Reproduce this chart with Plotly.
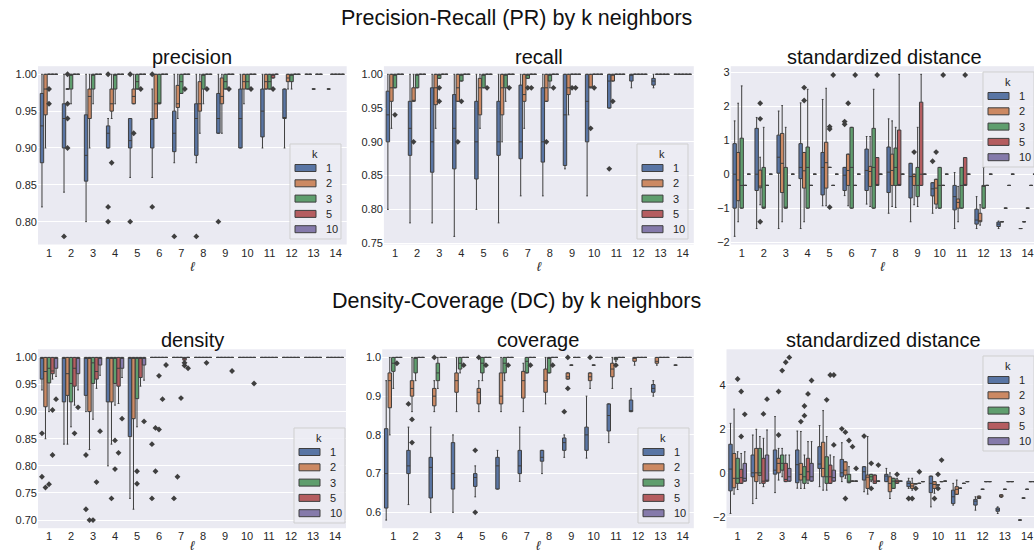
import plotly.graph_objects as go

# ---------------- categories ----------------
ELL = [1, 2, 3, 4, 5, 6, 7, 8, 9, 10, 11, 12, 13, 14]
ELL_LABELS = ["1", "2", "3", "4", "5", "6", "7", "8", "9", "10", "11", "12", "13", "14"]
K_LEVELS = [1, 2, 3, 5, 10]
K_COLORS = ["#5975a4", "#cc8963", "#5f9e6e", "#b55d60", "#857aab"]

# box stats per ell: (lower whisker, q1, median, q3, upper whisker)
# ---------------- precision ----------------
prec_k1 = [(.82, .88, .93, .974, 1), (.84, .90, .94, .96, 1), (.80, .855, .89, .945, 1), (.90, .90, .92, .93, .94),
           (.86, .90, .91, .94, .94), (.86, .90, .94, .94, .98), (.88, .895, .92, .95, 1), (.88, .89, .94, .96, 1),
           (.92, .92, .94, .974, 1), (.90, .90, .94, .98, 1), (.90, .915, .95, .98, 1), (.90, .94, .94, .98, .98),
           (1, 1, 1, 1, 1), (.98, .98, .98, .98, .98)]
prec_k2 = [(.90, .945, .98, 1, 1), (.98, .98, .98, .98, .98), (.90, .94, .97, .98, 1), (.94, .95, .96, .98, 1),
           (.96, .96, .97, .98, 1), (.94, .94, .96, 1, 1), (.94, .955, .96, .985, 1), (.92, .95, .96, .99, 1),
           (.92, .96, .97, .995, 1), (.96, .98, .99, 1, 1), (.98, .98, .99, 1, 1), (.98, .99, .995, 1, 1),
           (1, 1, 1, 1, 1), (1, 1, 1, 1, 1)]
prec_k3 = [(1, 1, 1, 1, 1), (.96, .98, 1, 1, 1), (.96, .98, 1, 1, 1), (.96, .98, 1, 1, 1),
           (.98, .98, .99, 1, 1), (.96, .96, .96, 1, 1), (.974, .974, .99, 1, 1), (.96, .98, 1, 1, 1),
           (.98, .98, .99, 1, 1), (.98, .98, .99, 1, 1), (.98, .98, .99, 1, 1), (.98, .99, 1, 1, 1),
           (.98, .98, .98, .98, .98), (1, 1, 1, 1, 1)]
prec_k5 = [(1, 1, 1, 1, 1), (1, 1, 1, 1, 1), (1, 1, 1, 1, 1), (1, 1, 1, 1, 1), (1, 1, 1, 1, 1),
           (1, 1, 1, 1, 1), (1, 1, 1, 1, 1), (1, 1, 1, 1, 1), (1, 1, 1, 1, 1), (1, 1, 1, 1, 1),
           (.995, .995, 1, 1, 1), (1, 1, 1, 1, 1), (1, 1, 1, 1, 1), (1, 1, 1, 1, 1)]
prec_k10 = [(1, 1, 1, 1, 1), (1, 1, 1, 1, 1), (1, 1, 1, 1, 1), (1, 1, 1, 1, 1), (1, 1, 1, 1, 1),
            (1, 1, 1, 1, 1), (1, 1, 1, 1, 1), (1, 1, 1, 1, 1), (1, 1, 1, 1, 1), (1, 1, 1, 1, 1),
            (1, 1, 1, 1, 1), (1, 1, 1, 1, 1), (1, 1, 1, 1, 1), (1, 1, 1, 1, 1)]
# outliers: (ell, value)
prec_out_k1 = [(2, .78), (4, 1.0), (4, .82), (4, .80), (5, 1.0), (5, .80), (6, 1.0), (6, .82), (7, .78), (8, .78), (9, .80)]
prec_out_k2 = [(2, 1.0), (2, .96), (2, .94), (2, .90), (4, .88), (5, .92)]
prec_out_k3 = [(1, .98), (1, .96)]
prec_out_k5 = [(5, .98), (7, .98), (8, .98), (9, .98), (10, .98), (11, .98)]
prec_out_k10 = []

# ---------------- recall ----------------
rec_k1 = [(.80, .90, .94, .975, 1), (.78, .88, .92, .96, 1), (.78, .855, .90, .98, 1), (.76, .86, .92, .97, 1),
          (.80, .845, .90, .96, 1), (.78, .88, .90, .96, 1), (.82, .875, .90, .984, 1), (.82, .87, .90, .98, 1),
          (.86, .865, .94, 1, 1), (.82, .90, .96, 1, 1), (.95, .95, .99, 1, 1), (.98, .99, 1, 1, 1),
          (.98, .984, .99, .994, 1), (1, 1, 1, 1, 1)]
rec_k2 = [(.92, .96, .98, 1, 1), (.96, .96, .96, .98, 1), (.92, .955, .98, 1, 1), (.96, .96, .98, 1, 1),
          (.92, .94, .98, .994, 1), (.90, .94, .98, 1, 1), (.92, .96, .97, 1, 1), (.96, .96, .98, 1, 1),
          (.94, .97, .98, 1, 1), (.98, .98, .98, 1, 1), (.99, .99, 1, 1, 1), (1, 1, 1, 1, 1),
          (1, 1, 1, 1, 1), (1, 1, 1, 1, 1)]
rec_k3 = [(.98, .98, 1, 1, 1), (.98, .98, 1, 1, 1), (.994, .994, 1, 1, 1), (.99, .99, 1, 1, 1),
          (.98, .98, 1, 1, 1), (.96, .98, 1, 1, 1), (.994, .994, 1, 1, 1), (.98, .99, 1, 1, 1),
          (1, 1, 1, 1, 1), (1, 1, 1, 1, 1), (1, 1, 1, 1, 1), (1, 1, 1, 1, 1), (1, 1, 1, 1, 1), (1, 1, 1, 1, 1)]
rec_k5 = [(1, 1, 1, 1, 1), (1, 1, 1, 1, 1), (1, 1, 1, 1, 1), (1, 1, 1, 1, 1), (1, 1, 1, 1, 1),
          (1, 1, 1, 1, 1), (1, 1, 1, 1, 1), (1, 1, 1, 1, 1), (1, 1, 1, 1, 1), (1, 1, 1, 1, 1),
          (1, 1, 1, 1, 1), (1, 1, 1, 1, 1), (1, 1, 1, 1, 1), (1, 1, 1, 1, 1)]
rec_k10 = [(1, 1, 1, 1, 1), (1, 1, 1, 1, 1), (1, 1, 1, 1, 1), (1, 1, 1, 1, 1), (1, 1, 1, 1, 1),
           (1, 1, 1, 1, 1), (1, 1, 1, 1, 1), (1, 1, 1, 1, 1), (1, 1, 1, 1, 1), (1, 1, 1, 1, 1),
           (1, 1, 1, 1, 1), (1, 1, 1, 1, 1), (1, 1, 1, 1, 1), (1, 1, 1, 1, 1)]
rec_out_k1 = [(11, .86)]
rec_out_k2 = [(2, .90), (4, .90), (8, .90), (10, .92), (11, .96)]
rec_out_k3 = [(1, .94), (3, .98), (3, .96), (4, .96), (7, .98), (9, .98), (10, .98)]
rec_out_k5 = [(5, .98), (6, .98), (7, .98), (8, .98), (9, .98)]
rec_out_k10 = []

# ---------------- standardized distance (PR) ----------------
spr_k1 = [(-1.83, -1.0, 0, .9, 1.57), (-1.6, -.48, 0, 1.35, 1.67), (-1.6, .03, .5, 1.15, 1.86), (-1.6, -.13, .2, .9, 2.1),
          (-.93, -.61, .2, .64, 2.2), (-.63, -.48, -.03, .2, .2), (-.88, -.48, .11, .74, 1.11), (-1.15, -.54, .06, .8, 1.63),
          (-1.4, -.7, -.07, .32, .32), (-1.15, -.64, -.43, -.25, -.25), (-1.6, -1.05, -.66, -.33, .05),
          (-1.6, -1.47, -1.35, -1.03, -.66), (-1.6, -1.54, -1.47, -1.41, -1.38), (-1.6, -1.6, -1.6, -1.6, -1.6)]
spr_k2 = [(-1.4, -.78, -.17, .64, 2.09), (-.9, -.4, -.35, .12, .5), (-1.4, -.54, .32, 1.2, 2.02), (-1.4, -.41, .1, .64, .64),
          (-.93, -.41, .34, .94, 2.53), (-.93, -.33, .11, .59, .59), (-.95, -.36, .08, .23, 1.11), (-.95, -.33, .11, .59, 1.57),
          (-.9, -.33, -.07, 0, 0), (-1.0, -.88, -.41, -.15, -.15), (-1.4, -1.0, -.83, -.73, -.36),
          (-1.5, -1.4, -1.4, -1.15, -.9), (-1.4, -1.4, -1.4, -1.4, -1.4), (-1.4, -1.4, -1.4, -1.4, -1.4)]
spr_k3 = [(-1.0, -1.0, -.33, 1.06, 2.6), (-1.0, -1.0, -1.0, .2, 1.38), (-1.0, -1.0, -1.0, .2, 1.38), (-1.0, -1.0, .2, .8, 2.5),
          (.2, .2, .2, .2, .2), (-1.0, -1.0, .2, 1.38, 1.38), (-1.0, -1.0, .2, 1.35, 2.5), (-.98, -.33, .2, .77, 1.38),
          (-.95, -.66, -.33, .2, 1.38), (-1.0, -1.0, -.33, .2, .2), (-1.0, -1.0, -.33, .2, .2),
          (-1.0, -1.0, -.33, -.33, .2), (-1.0, -1.0, -1.0, -1.0, -1.0), (-1.0, -1.0, -1.0, -1.0, -1.0)]
spr_k5 = [(-.33, -.33, -.33, -.33, -.33), (-.33, -.33, -.33, -.33, -.33), (-.33, -.33, -.33, -.33, -.33),
          (-.33, -.33, -.33, -.33, -.33), (-.33, -.33, -.33, -.33, -.33), (-.33, -.33, -.33, -.33, -.33),
          (-.33, -.33, -.33, .49, .49), (-.33, -.33, -.33, 1.3, 2.94), (-.33, -.33, 0, 2.12, 2.94),
          (-.33, -.33, -.33, -.33, -.33), (-.33, -.33, -.33, .49, .49), (-.33, -.33, -.33, -.33, -.33),
          (-.33, -.33, -.33, -.33, -.33), (-.33, -.33, -.33, -.33, -.33)]
spr_k10 = [(0, 0, 0, 0, 0), (0, 0, 0, 0, 0), (0, 0, 0, 0, 0), (0, 0, 0, 0, 0), (0, 0, 0, 0, 0),
           (0, 0, 0, 0, 0), (0, 0, 0, 0, 0), (0, 0, 0, 0, 0), (0, 0, 0, 0, 0), (0, 0, 0, 0, 0),
           (0, 0, 0, 0, 0), (0, 0, 0, 0, 0), (0, 0, 0, 0, 0), (0, 0, 0, 0, 0)]
spr_out_k1 = [(6, 1.55), (6, 1.47), (10, .38)]
spr_out_k2 = [(2, 2.09), (2, 1.63), (2, -1.4), (4, 2.55), (4, 2.17), (6, 2.09), (9, .65), (10, .65)]
spr_out_k3 = [(5, 1.4), (5, 1.33), (5, -.97)]
spr_out_k5 = [(5, 2.92), (6, 2.92), (7, 2.92), (10, 2.92), (11, 2.92)]
spr_out_k10 = []

# ---------------- density ----------------
den_k1 = [(.94, .96, 1, 1, 1), (.84, .918, 1, 1, 1), (.90, .93, 1, 1, 1), (.80, .918, 1, 1, 1), (.74, .854, 1, 1, 1),
          (1, 1, 1, 1, 1), (1, 1, 1, 1, 1), (1, 1, 1, 1, 1), (1, 1, 1, 1, 1), (1, 1, 1, 1, 1),
          (1, 1, 1, 1, 1), (1, 1, 1, 1, 1), (1, 1, 1, 1, 1), (1, 1, 1, 1, 1)]
den_k2 = [(.85, .909, .974, 1, 1), (.84, .93, .97, 1, 1), (.83, .90, 1, 1, 1), (.84, .918, 1, 1, 1), (.72, .887, 1, 1, 1),
          (1, 1, 1, 1, 1), (1, 1, 1, 1, 1), (1, 1, 1, 1, 1), (1, 1, 1, 1, 1), (1, 1, 1, 1, 1),
          (1, 1, 1, 1, 1), (1, 1, 1, 1, 1), (1, 1, 1, 1, 1), (1, 1, 1, 1, 1)]
den_k3 = [(.90, .953, .98, 1, 1), (.872, .918, .952, 1, 1), (.886, .952, .99, 1, 1), (.912, .952, 1, 1, 1),
          (.872, .924, 1, 1, 1), (1, 1, 1, 1, 1), (1, 1, 1, 1, 1), (1, 1, 1, 1, 1), (1, 1, 1, 1, 1),
          (1, 1, 1, 1, 1), (1, 1, 1, 1, 1), (1, 1, 1, 1, 1), (1, 1, 1, 1, 1), (1, 1, 1, 1, 1)]
den_k5 = [(.96, .97, .975, 1, 1), (.912, .947, .98, 1, 1), (.943, .96, .974, 1, 1), (.915, .947, .98, 1, 1),
          (.947, .963, 1, 1, 1), (1, 1, 1, 1, 1), (.995, .995, 1, 1, 1), (1, 1, 1, 1, 1), (1, 1, 1, 1, 1),
          (1, 1, 1, 1, 1), (1, 1, 1, 1, 1), (1, 1, 1, 1, 1), (1, 1, 1, 1, 1), (1, 1, 1, 1, 1)]
den_k10 = [(.965, .98, 1, 1, 1), (.94, .97, 1, 1, 1), (.967, .986, 1, 1, 1), (.963, .98, 1, 1, 1),
           (.958, .986, 1, 1, 1), (1, 1, 1, 1, 1), (1, 1, 1, 1, 1), (1, 1, 1, 1, 1), (1, 1, 1, 1, 1),
           (1, 1, 1, 1, 1), (1, 1, 1, 1, 1), (1, 1, 1, 1, 1), (1, 1, 1, 1, 1), (1, 1, 1, 1, 1)]
den_out_k1 = [(1, .86), (1, .78), (3, .82), (3, .72), (6, .84), (6, .74), (7, .74)]
den_out_k2 = [(1, .76), (3, .70), (4, .74), (6, .87), (6, .79), (7, .78)]
den_out_k3 = [(1, .766), (3, .70), (4, .847), (4, .794), (5, .79), (5, .767), (6, .966), (6, .867), (7, .925)]
den_out_k5 = [(1, .903), (1, .82), (2, .86), (3, .77), (4, .824), (6, .923), (7, .99), (7, .985), (8, .99)]
den_out_k10 = [(1, .923), (2, .908), (3, .864), (4, .887), (5, .882), (6, .986), (7, .98), (9, .975), (10, .952)]

# ---------------- coverage ----------------
cov_k1 = [(.58, .611, .70, .816, .94), (.62, .70, .72, .76, .82), (.60, .637, .716, .742, .82), (.60, .66, .70, .78, .80),
          (.64, .667, .69, .70, .72), (.66, .66, .72, .742, .76), (.68, .70, .72, .76, .82), (.70, .732, .742, .76, .76),
          (.742, .76, .78, .792, .80), (.74, .76, .80, .82, .90), (.78, .81, .85, .88, .88), (.86, .86, .86, .89, .92),
          (.90, .91, .92, .93, .94), (.98, .98, .98, .98, .98)]
cov_k2 = [(.80, .87, .94, .96, 1), (.86, .90, .92, .94, 1), (.86, .875, .90, .92, .94), (.86, .91, .94, .96, 1),
          (.86, .88, .91, .92, .94), (.86, .88, .90, .96, 1), (.86, .895, .94, .964, .985), (.88, .91, .94, .97, 1),
          (.944, .944, .95, .96, .96), (.92, .94, .95, .96, .96), (.92, .95, .97, .985, 1), (.98, .99, 1, 1, 1),
          (.98, .985, .99, 1, 1), (1, 1, 1, 1, 1)]
cov_k3 = [(.92, .964, .985, 1, 1), (.94, .96, 1, 1, 1), (.92, .94, .96, .985, 1), (.96, .97, .985, 1, 1),
          (.94, .96, .985, 1, 1), (.94, .96, .985, 1, 1), (.96, .96, .99, 1, 1), (.96, .96, 1, 1, 1),
          (.98, .98, .98, .98, .98), (.98, .98, .98, .98, .98), (.99, .994, 1, 1, 1), (1, 1, 1, 1, 1),
          (1, 1, 1, 1, 1), (1, 1, 1, 1, 1)]
cov_k5 = [(1, 1, 1, 1, 1), (1, 1, 1, 1, 1), (1, 1, 1, 1, 1), (1, 1, 1, 1, 1), (1, 1, 1, 1, 1),
          (1, 1, 1, 1, 1), (1, 1, 1, 1, 1), (1, 1, 1, 1, 1), (1, 1, 1, 1, 1), (1, 1, 1, 1, 1),
          (1, 1, 1, 1, 1), (1, 1, 1, 1, 1), (1, 1, 1, 1, 1), (1, 1, 1, 1, 1)]
cov_k10 = [(1, 1, 1, 1, 1), (1, 1, 1, 1, 1), (1, 1, 1, 1, 1), (1, 1, 1, 1, 1), (1, 1, 1, 1, 1),
           (1, 1, 1, 1, 1), (1, 1, 1, 1, 1), (1, 1, 1, 1, 1), (1, 1, 1, 1, 1), (1, 1, 1, 1, 1),
           (1, 1, 1, 1, 1), (1, 1, 1, 1, 1), (1, 1, 1, 1, 1), (1, 1, 1, 1, 1)]
cov_out_k1 = [(2, .88), (5, .76), (5, .60), (9, .86)]
cov_out_k2 = [(2, .84), (2, .78), (3, 1.0), (5, 1.0), (9, .92), (9, 1.0), (10, 1.0)]
cov_out_k3 = [(11, .98)]
cov_out_k5 = [(1, .985), (4, .98), (5, .98), (6, .98), (7, .98), (8, .98)]
cov_out_k10 = []

# ---------------- standardized distance (DC) ----------------
sdc_k1 = [(-1.85, -.82, .17, 1.3, 2.25), (-1.4, -.18, 0, .81, 1.72), (-.9, -.06, .12, 1.04, 2.56), (-.7, -.45, .37, 1.04, 1.9),
          (-.63, .2, .4, 1.19, 2.15), (-.4, -.18, 0, .61, 1.37), (-.86, -.33, .05, .28, .28), (-.4, -.4, -.15, -.07, .2),
          (-.71, -.63, -.48, -.38, -.25), (-1.55, -.9, -.48, -.15, -.15), (-1.47, -1.4, -1.09, -.79, -.48),
          (-1.7, -1.47, -1.29, -1.21, -1.09), (-1.85, -1.75, -1.68, -1.6, -1.55), (-2.15, -2.15, -2.15, -2.15, -2.15)]
sdc_k2 = [(-.97, -.68, -.25, .88, 2.9), (-1.17, -.4, 0, 1.11, 1.98), (-.33, 0, .43, .66, 1.11), (-.71, -.33, -.07, .43, 1.88),
          (-.79, -.18, .2, 1.39, 2.83), (-.25, -.1, .12, .5, .5), (-.97, -.71, -.2, -.1, 1.65), (-1.17, -.86, -.48, -.18, 0),
          (-.79, -.71, -.6, -.48, -.25), (-.93, -.71, -.53, -.4, -.4), (-.98, -.98, -.75, -.63, -.33),
          (-1.17, -1.17, -1.12, -1.06, -1.06), (-1.12, -1.1, -1.06, -1.0, -1.0), (-1.15, -1.15, -1.15, -1.15, -1.15)]
sdc_k3 = [(-.76, -.48, -.25, .66, .96), (-.48, -.12, 0, 1.11, 1.65), (-.18, .12, .43, .81, 1.11), (-.71, -.48, -.18, .28, .81),
          (-.79, -.48, -.18, .73, 1.65), (-.45, -.45, -.38, -.07, .28), (-.4, -.33, -.18, -.07, -.07), (-.71, -.71, -.38, -.25, -.25),
          (-.5, -.5, -.5, -.5, -.5), (-.55, -.55, -.55, -.55, -.55), (-.7, -.7, -.7, -.7, -.7),
          (-.75, -.75, -.75, -.75, -.75), (-.75, -.75, -.75, -.75, -.75), (-.75, -.75, -.75, -.75, -.75)]
sdc_k5 = [(-.48, -.48, -.22, .16, .88), (-.63, -.48, -.38, .66, 1.57), (-.4, -.4, -.3, .43, .81), (-.48, -.33, .05, .66, 1.42),
          (-.48, -.48, -.18, .35, .81), (-.38, -.38, -.38, -.38, -.38), (-.48, -.48, -.38, -.1, -.1), (-.48, -.48, -.4, -.33, -.25),
          (-.48, -.48, -.48, -.48, -.48), (-.4, -.4, -.4, -.4, -.4), (-.48, -.48, -.48, -.48, -.48),
          (-.4, -.4, -.4, -.4, -.4), (-.4, -.4, -.4, -.4, -.4), (-.4, -.4, -.4, -.4, -.4)]
sdc_k10 = [(-.38, -.38, -.25, .43, .96), (-.38, -.38, -.38, .81, 1.95), (-.38, -.38, -.18, .2, .81), (-.38, -.38, -.18, .43, 1.42),
           (-.38, -.38, -.22, .12, .73), (-.38, -.38, -.38, -.38, -.38), (-.38, -.38, -.38, -.38, -.38), (-.38, -.38, -.38, -.38, -.38),
           (-.4, -.4, -.4, -.4, -.4), (-.38, -.38, -.38, -.38, -.38), (-.4, -.4, -.4, -.4, -.4),
           (-.4, -.4, -.4, -.4, -.4), (-.4, -.4, -.4, -.4, -.4), (-.4, -.4, -.4, -.4, -.4)]
sdc_out_k1 = [(6, 2.0), (7, 1.67), (9, -1.17)]
sdc_out_k2 = [(3, 3.7), (3, 1.72), (4, 2.33), (6, 1.85), (6, -1.17), (9, -1.17), (10, -1.17)]
sdc_out_k3 = [(1, 4.27), (3, 4.65), (4, 2.6), (4, 3.04), (5, 3.32), (6, 1.47), (7, .43), (7, -.71), (9, -.71), (10, -.07), (10, -.71)]
sdc_out_k5 = [(1, 3.7), (1, 1.65), (2, 2.68), (3, 5.03), (4, 3.59), (5, 4.45), (6, 1.19), (8, -.07), (9, .05), (10, .58)]
sdc_out_k10 = [(1, 2.66), (2, 3.35), (3, 5.25), (4, 4.2), (5, 4.45), (5, 1.27), (6, .2), (7, .35)]

# ---------------- panel setup ----------------
W, H = 1034, 553
GRAY = "#3f3f3f"
TXT = "#262626"
FONT = "Liberation Sans, Arial, sans-serif"

panels = [
    dict(title="precision", boxes=[prec_k1, prec_k2, prec_k3, prec_k5, prec_k10],
         outs=[prec_out_k1, prec_out_k2, prec_out_k3, prec_out_k5, prec_out_k10],
         xpx=(38.0, 346.7), ypx=(66.2, 244.5), xr=[0.5, 14.5], yr=[0.769, 1.011],
         yt=[0.80, 0.85, 0.90, 0.95, 1.00], ytt=["0.80", "0.85", "0.90", "0.95", "1.00"],
         leg=(290, 144)),
    dict(title="recall", boxes=[rec_k1, rec_k2, rec_k3, rec_k5, rec_k10],
         outs=[rec_out_k1, rec_out_k2, rec_out_k3, rec_out_k5, rec_out_k10],
         xpx=(383.9, 693.8), ypx=(66.2, 244.5), xr=[0.5, 14.5], yr=[0.748, 1.012],
         yt=[0.75, 0.80, 0.85, 0.90, 0.95, 1.00], ytt=["0.75", "0.80", "0.85", "0.90", "0.95", "1.00"],
         leg=(637, 144)),
    dict(title="standardized distance", boxes=[spr_k1, spr_k2, spr_k3, spr_k5, spr_k10],
         outs=[spr_out_k1, spr_out_k2, spr_out_k3, spr_out_k5, spr_out_k10],
         xpx=(730.7, 1034.0), ypx=(66.2, 244.5), xr=[0.5, 14.29], yr=[-2.07, 3.18],
         yt=[-2, -1, 0, 1, 2, 3], ytt=["\u22122", "\u22121", "0", "1", "2", "3"],
         leg=(983, 72), tcx=884.7),
    dict(title="density", boxes=[den_k1, den_k2, den_k3, den_k5, den_k10],
         outs=[den_out_k1, den_out_k2, den_out_k3, den_out_k5, den_out_k10],
         xpx=(38.0, 346.0), ypx=(349.3, 528.2), xr=[0.5, 14.5], yr=[0.685, 1.015],
         yt=[0.70, 0.75, 0.80, 0.85, 0.90, 0.95, 1.00],
         ytt=["0.70", "0.75", "0.80", "0.85", "0.90", "0.95", "1.00"],
         leg=(294, 428)),
    dict(title="coverage", boxes=[cov_k1, cov_k2, cov_k3, cov_k5, cov_k10],
         outs=[cov_out_k1, cov_out_k2, cov_out_k3, cov_out_k5, cov_out_k10],
         xpx=(382.2, 693.8), ypx=(349.3, 528.2), xr=[0.5, 14.5], yr=[0.559, 1.021],
         yt=[0.6, 0.7, 0.8, 0.9, 1.0], ytt=["0.6", "0.7", "0.8", "0.9", "1.0"],
         leg=(638, 428)),
    dict(title="standardized distance", boxes=[sdc_k1, sdc_k2, sdc_k3, sdc_k5, sdc_k10],
         outs=[sdc_out_k1, sdc_out_k2, sdc_out_k3, sdc_out_k5, sdc_out_k10],
         xpx=(726.5, 1034.0), ypx=(349.3, 528.2), xr=[0.5, 14.31], yr=[-2.52, 5.62],
         yt=[-2, 0, 2, 4], ytt=["\u22122", "0", "2", "4"],
         leg=(983, 356), tcx=883.0),
]

HUE_W = 0.16
BOX_W = 0.155


def px(xp):
    return xp / W


def py(yp):
    return 1 - yp / H


fig = go.Figure()
layout = dict(
    width=W, height=H,
    margin=dict(l=0, r=0, t=0, b=0, autoexpand=False),
    paper_bgcolor="white", plot_bgcolor="#eaeaf2",
    font=dict(family=FONT, color=TXT, size=11),
    boxmode="overlay", showlegend=False, annotations=[], shapes=[],
)

for pi, p in enumerate(panels):
    n = pi + 1
    xa = "x" if n == 1 else f"x{n}"
    ya = "y" if n == 1 else f"y{n}"
    for hi, (k, col) in enumerate(zip(K_LEVELS, K_COLORS)):
        stats = p["boxes"][hi]
        off = (hi - 2) * HUE_W
        fig.add_trace(go.Box(
            x=[e + off for e in ELL],
            lowerfence=[s[0] for s in stats], q1=[s[1] for s in stats],
            median=[s[2] for s in stats], q3=[s[3] for s in stats],
            upperfence=[s[4] for s in stats],
            width=BOX_W, whiskerwidth=0.5, boxpoints=False,
            fillcolor=col, line=dict(color=GRAY, width=1),
            name=str(k), xaxis=xa, yaxis=ya, hoverinfo="skip",
        ))
        outs = p["outs"][hi]
        if outs:
            fig.add_trace(go.Scatter(
                x=[o[0] + off for o in outs], y=[o[1] for o in outs], mode="markers",
                marker=dict(symbol="diamond", size=4.5, color=GRAY),
                name=str(k), showlegend=False, xaxis=xa, yaxis=ya, hoverinfo="skip",
            ))
    x0, x1 = p["xpx"]
    y0, y1 = p["ypx"]
    xkey = "xaxis" if n == 1 else f"xaxis{n}"
    ykey = "yaxis" if n == 1 else f"yaxis{n}"
    layout[xkey] = dict(
        domain=[px(x0), min(1.0, px(x1))], range=p["xr"], anchor=ya,
        tickmode="array", tickvals=ELL, ticktext=ELL_LABELS, ticklabeloverflow="allow",
        showgrid=False, zeroline=False, showline=False, ticks="",
        tickfont=dict(size=11, color=TXT),
        title=dict(text="<i>\u2113</i>", font=dict(size=13, color=TXT), standoff=4),
    )
    layout[ykey] = dict(
        domain=[py(y1), py(y0)], range=p["yr"], anchor=xa,
        tickmode="array", tickvals=p["yt"], ticktext=p["ytt"],
        showgrid=True, gridcolor="white", gridwidth=1, zeroline=False, showline=False,
        ticks="", tickfont=dict(size=11, color=TXT),
    )
    # ---- legend drawn as a framed box (seaborn style) ----
    lx, ly = p["leg"]
    layout["shapes"].append(dict(
        type="rect", xref="paper", yref="paper", x0=px(lx), x1=px(lx + 51), y0=py(ly + 95), y1=py(ly),
        fillcolor="rgba(236,236,243,0.85)", line=dict(color="#cfcfcf", width=1), layer="above"))
    layout["annotations"].append(dict(
        text="k", x=px(lx + 25), y=py(ly + 10), xref="paper", yref="paper",
        xanchor="center", yanchor="middle", showarrow=False, font=dict(size=11, color=TXT)))
    for hi, (k, col) in enumerate(zip(K_LEVELS, K_COLORS)):
        cy = ly + 24 + hi * 15.3
        layout["shapes"].append(dict(
            type="rect", xref="paper", yref="paper", x0=px(lx + 5), x1=px(lx + 26),
            y0=py(cy + 3.5), y1=py(cy - 3.5), fillcolor=col, line=dict(color=GRAY, width=1), layer="above"))
        layout["annotations"].append(dict(
            text=str(k), x=px(lx + 34), y=py(cy), xref="paper", yref="paper",
            xanchor="left", yanchor="middle", showarrow=False, font=dict(size=11, color=TXT)))
    tcx = p.get("tcx", (x0 + x1) / 2)
    layout["annotations"].append(dict(
        text=p["title"], x=px(tcx), y=py(y0 - 9), xref="paper", yref="paper",
        xanchor="center", yanchor="middle", showarrow=False,
        font=dict(size=20, color="#111111"),
    ))

layout["annotations"].append(dict(
    text="Precision-Recall (PR) by k neighbors", x=px(516), y=py(18), xref="paper", yref="paper",
    xanchor="center", yanchor="middle", showarrow=False, font=dict(size=21.5, color="#111111")))
layout["annotations"].append(dict(
    text="Density-Coverage (DC) by k neighbors", x=px(516), y=py(301), xref="paper", yref="paper",
    xanchor="center", yanchor="middle", showarrow=False, font=dict(size=21.5, color="#111111")))

fig.update_layout(**layout)
fig.write_html(
    "out.html",
    config={"displayModeBar": False},
    post_script="document.body.style.margin='0px';document.body.style.overflow='hidden';",
)
